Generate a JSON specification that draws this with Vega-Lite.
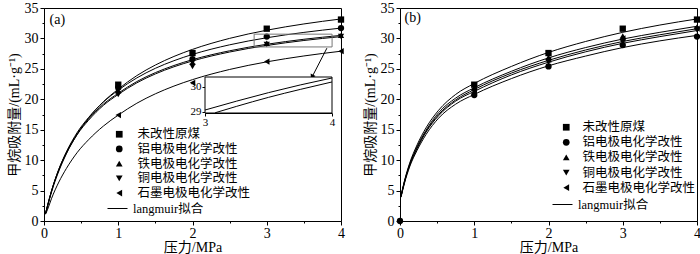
{
  "$schema": "https://vega.github.io/schema/vega-lite/v6.json",
  "padding": {"left": 6, "top": 0, "right": 0, "bottom": 0},
  "spacing": 17,
  "config": {
    "font": "Liberation Serif, Noto Sans CJK SC",
    "view": {"stroke": "black", "strokeWidth": 1},
    "axis": {
      "labelFont": "Liberation Serif, Noto Sans CJK SC",
      "titleFont": "Liberation Serif, Noto Sans CJK SC",
      "labelFontSize": 14, "titleFontSize": 14,
      "labelColor": "black", "titleColor": "black",
      "domainColor": "black", "tickColor": "black",
      "titleFontWeight": "normal", "grid": false
    },
    "legend": {
      "labelFont": "Liberation Serif, Noto Sans CJK SC",
      "labelFontSize": 12.5, "labelColor": "black"
    },
    "text": {"font": "Liberation Serif, Noto Sans CJK SC"}
  },
  "datasets": {
    "points_a": [
      {"p": 1, "v": 22.4, "series": "未改性原煤"}, {"p": 2, "v": 27.6, "series": "未改性原煤"}, {"p": 3, "v": 31.6, "series": "未改性原煤"}, {"p": 4, "v": 33.1, "series": "未改性原煤"},
      {"p": 1, "v": 21.9, "series": "铝电极电化学改性"}, {"p": 2, "v": 26.6, "series": "铝电极电化学改性"}, {"p": 3, "v": 30.3, "series": "铝电极电化学改性"}, {"p": 4, "v": 31.7, "series": "铝电极电化学改性"},
      {"p": 1, "v": 21.4, "series": "铁电极电化学改性"}, {"p": 2, "v": 26.1, "series": "铁电极电化学改性"}, {"p": 3, "v": 29.2, "series": "铁电极电化学改性"}, {"p": 4, "v": 30.5, "series": "铁电极电化学改性"},
      {"p": 1, "v": 20.8, "series": "铜电极电化学改性"}, {"p": 2, "v": 25.4, "series": "铜电极电化学改性"}, {"p": 3, "v": 29.0, "series": "铜电极电化学改性"}, {"p": 4, "v": 30.3, "series": "铜电极电化学改性"},
      {"p": 1, "v": 17.4, "series": "石墨电极电化学改性"}, {"p": 2, "v": 22.7, "series": "石墨电极电化学改性"}, {"p": 3, "v": 26.2, "series": "石墨电极电化学改性"}, {"p": 4, "v": 27.9, "series": "石墨电极电化学改性"}
    ],
    "curves_a": [
      {"p": 0.02, "v": 1.2, "series": "S"}, {"p": 0.05, "v": 2.5, "series": "S"}, {"p": 0.1, "v": 4.7, "series": "S"}, {"p": 0.2, "v": 8.2, "series": "S"}, {"p": 0.3, "v": 11.0, "series": "S"}, {"p": 0.45, "v": 14.3, "series": "S"}, {"p": 0.6, "v": 16.9, "series": "S"}, {"p": 0.8, "v": 19.6, "series": "S"}, {"p": 1, "v": 21.67, "series": "S"}, {"p": 1.25, "v": 23.89, "series": "S"}, {"p": 1.5, "v": 25.63, "series": "S"}, {"p": 1.75, "v": 27.04, "series": "S"}, {"p": 2, "v": 28.2, "series": "S"}, {"p": 2.5, "v": 30.01, "series": "S"}, {"p": 3, "v": 31.35, "series": "S"}, {"p": 3.5, "v": 32.38, "series": "S"}, {"p": 4, "v": 33.2, "series": "S"},
      {"p": 0.02, "v": 1.2, "series": "C"}, {"p": 0.05, "v": 2.65, "series": "C"}, {"p": 0.1, "v": 4.9, "series": "C"}, {"p": 0.2, "v": 8.5, "series": "C"}, {"p": 0.3, "v": 11.3, "series": "C"}, {"p": 0.45, "v": 14.6, "series": "C"}, {"p": 0.6, "v": 17.0, "series": "C"}, {"p": 0.8, "v": 19.55, "series": "C"}, {"p": 1, "v": 21.5, "series": "C"}, {"p": 1.25, "v": 23.51, "series": "C"}, {"p": 1.5, "v": 25.09, "series": "C"}, {"p": 1.75, "v": 26.34, "series": "C"}, {"p": 2, "v": 27.37, "series": "C"}, {"p": 2.5, "v": 28.95, "series": "C"}, {"p": 3, "v": 30.11, "series": "C"}, {"p": 3.5, "v": 30.99, "series": "C"}, {"p": 4, "v": 31.7, "series": "C"},
      {"p": 0.02, "v": 1.2, "series": "T"}, {"p": 0.05, "v": 2.65, "series": "T"}, {"p": 0.1, "v": 4.9, "series": "T"}, {"p": 0.2, "v": 8.5, "series": "T"}, {"p": 0.3, "v": 11.25, "series": "T"}, {"p": 0.45, "v": 14.4, "series": "T"}, {"p": 0.6, "v": 16.75, "series": "T"}, {"p": 0.8, "v": 19.2, "series": "T"}, {"p": 1, "v": 21.0, "series": "T"}, {"p": 1.25, "v": 22.91, "series": "T"}, {"p": 1.5, "v": 24.38, "series": "T"}, {"p": 1.75, "v": 25.55, "series": "T"}, {"p": 2, "v": 26.51, "series": "T"}, {"p": 2.5, "v": 27.97, "series": "T"}, {"p": 3, "v": 29.04, "series": "T"}, {"p": 3.5, "v": 29.86, "series": "T"}, {"p": 4, "v": 30.5, "series": "T"},
      {"p": 0.02, "v": 1.2, "series": "D"}, {"p": 0.05, "v": 2.6, "series": "D"}, {"p": 0.1, "v": 4.85, "series": "D"}, {"p": 0.2, "v": 8.4, "series": "D"}, {"p": 0.3, "v": 11.1, "series": "D"}, {"p": 0.45, "v": 14.25, "series": "D"}, {"p": 0.6, "v": 16.55, "series": "D"}, {"p": 0.8, "v": 19.0, "series": "D"}, {"p": 1, "v": 20.8, "series": "D"}, {"p": 1.25, "v": 22.7, "series": "D"}, {"p": 1.5, "v": 24.17, "series": "D"}, {"p": 1.75, "v": 25.34, "series": "D"}, {"p": 2, "v": 26.3, "series": "D"}, {"p": 2.5, "v": 27.77, "series": "D"}, {"p": 3, "v": 28.84, "series": "D"}, {"p": 3.5, "v": 29.66, "series": "D"}, {"p": 4, "v": 30.3, "series": "D"},
      {"p": 0.02, "v": 1.1, "series": "L"}, {"p": 0.05, "v": 1.95, "series": "L"}, {"p": 0.1, "v": 3.65, "series": "L"}, {"p": 0.2, "v": 6.4, "series": "L"}, {"p": 0.3, "v": 8.6, "series": "L"}, {"p": 0.45, "v": 11.3, "series": "L"}, {"p": 0.6, "v": 13.35, "series": "L"}, {"p": 0.8, "v": 15.6, "series": "L"}, {"p": 1, "v": 17.4, "series": "L"}, {"p": 1.25, "v": 19.35, "series": "L"}, {"p": 1.5, "v": 20.9, "series": "L"}, {"p": 1.75, "v": 22.17, "series": "L"}, {"p": 2, "v": 23.23, "series": "L"}, {"p": 2.5, "v": 24.9, "series": "L"}, {"p": 3, "v": 26.15, "series": "L"}, {"p": 3.5, "v": 27.12, "series": "L"}, {"p": 4, "v": 27.9, "series": "L"}
    ],
    "inset_a": [
      {"p": 3, "v": 29.07, "series": "upper"}, {"p": 3.25, "v": 29.43, "series": "upper"}, {"p": 3.5, "v": 29.77, "series": "upper"}, {"p": 3.75, "v": 30.08, "series": "upper"}, {"p": 4, "v": 30.36, "series": "upper"},
      {"p": 3.08, "v": 28.96, "series": "lower"}, {"p": 3.25, "v": 29.22, "series": "lower"}, {"p": 3.5, "v": 29.58, "series": "lower"}, {"p": 3.75, "v": 29.9, "series": "lower"}, {"p": 4, "v": 30.2, "series": "lower"}
    ],
    "points_b": [
      {"p": 1, "v": 22.4, "series": "未改性原煤"}, {"p": 2, "v": 27.6, "series": "未改性原煤"}, {"p": 3, "v": 31.6, "series": "未改性原煤"}, {"p": 4, "v": 33.1, "series": "未改性原煤"},
      {"p": 1, "v": 21.9, "series": "铁电极电化学改性"}, {"p": 2, "v": 26.9, "series": "铁电极电化学改性"}, {"p": 3, "v": 30.4, "series": "铁电极电化学改性"}, {"p": 4, "v": 31.9, "series": "铁电极电化学改性"},
      {"p": 1, "v": 21.5, "series": "石墨电极电化学改性"}, {"p": 2, "v": 26.5, "series": "石墨电极电化学改性"}, {"p": 3, "v": 30.0, "series": "石墨电极电化学改性"}, {"p": 4, "v": 31.6, "series": "石墨电极电化学改性"},
      {"p": 1, "v": 21.2, "series": "铜电极电化学改性"}, {"p": 2, "v": 26.1, "series": "铜电极电化学改性"}, {"p": 3, "v": 29.4, "series": "铜电极电化学改性"}, {"p": 4, "v": 31.4, "series": "铜电极电化学改性"},
      {"p": 0, "v": 0, "series": "铝电极电化学改性"}, {"p": 1, "v": 20.7, "series": "铝电极电化学改性"}, {"p": 2, "v": 25.4, "series": "铝电极电化学改性"}, {"p": 3, "v": 28.9, "series": "铝电极电化学改性"}, {"p": 4, "v": 30.3, "series": "铝电极电化学改性"}
    ],
    "curves_b": [
      {"p": 0.013, "v": 4.1, "series": "S"}, {"p": 0.06, "v": 6.6, "series": "S"}, {"p": 0.13, "v": 9.5, "series": "S"}, {"p": 0.23, "v": 12.5, "series": "S"}, {"p": 0.35, "v": 15.3, "series": "S"}, {"p": 0.52, "v": 18.2, "series": "S"}, {"p": 0.75, "v": 20.8, "series": "S"}, {"p": 1, "v": 22.6, "series": "S"}, {"p": 1.5, "v": 25.4, "series": "S"}, {"p": 2, "v": 27.7, "series": "S"}, {"p": 2.5, "v": 29.5, "series": "S"}, {"p": 3, "v": 31.0, "series": "S"}, {"p": 3.5, "v": 32.2, "series": "S"}, {"p": 4, "v": 33.2, "series": "S"},
      {"p": 0.013, "v": 4.05, "series": "T"}, {"p": 0.06, "v": 6.5, "series": "T"}, {"p": 0.13, "v": 9.3, "series": "T"}, {"p": 0.23, "v": 12.2, "series": "T"}, {"p": 0.35, "v": 14.9, "series": "T"}, {"p": 0.52, "v": 17.8, "series": "T"}, {"p": 0.75, "v": 20.2, "series": "T"}, {"p": 1, "v": 21.9, "series": "T"}, {"p": 1.5, "v": 24.6, "series": "T"}, {"p": 2, "v": 26.8, "series": "T"}, {"p": 2.5, "v": 28.5, "series": "T"}, {"p": 3, "v": 29.9, "series": "T"}, {"p": 3.5, "v": 31.0, "series": "T"}, {"p": 4, "v": 32.0, "series": "T"},
      {"p": 0.013, "v": 4.0, "series": "L"}, {"p": 0.06, "v": 6.4, "series": "L"}, {"p": 0.13, "v": 9.2, "series": "L"}, {"p": 0.23, "v": 12.0, "series": "L"}, {"p": 0.35, "v": 14.7, "series": "L"}, {"p": 0.52, "v": 17.5, "series": "L"}, {"p": 0.75, "v": 19.9, "series": "L"}, {"p": 1, "v": 21.6, "series": "L"}, {"p": 1.5, "v": 24.3, "series": "L"}, {"p": 2, "v": 26.4, "series": "L"}, {"p": 2.5, "v": 28.1, "series": "L"}, {"p": 3, "v": 29.5, "series": "L"}, {"p": 3.5, "v": 30.6, "series": "L"}, {"p": 4, "v": 31.6, "series": "L"},
      {"p": 0.013, "v": 3.95, "series": "D"}, {"p": 0.06, "v": 6.35, "series": "D"}, {"p": 0.13, "v": 9.1, "series": "D"}, {"p": 0.23, "v": 11.9, "series": "D"}, {"p": 0.35, "v": 14.6, "series": "D"}, {"p": 0.52, "v": 17.3, "series": "D"}, {"p": 0.75, "v": 19.7, "series": "D"}, {"p": 1, "v": 21.3, "series": "D"}, {"p": 1.5, "v": 24.0, "series": "D"}, {"p": 2, "v": 26.1, "series": "D"}, {"p": 2.5, "v": 27.8, "series": "D"}, {"p": 3, "v": 29.2, "series": "D"}, {"p": 3.5, "v": 30.3, "series": "D"}, {"p": 4, "v": 31.3, "series": "D"},
      {"p": 0.013, "v": 3.9, "series": "C"}, {"p": 0.06, "v": 6.2, "series": "C"}, {"p": 0.13, "v": 8.9, "series": "C"}, {"p": 0.23, "v": 11.6, "series": "C"}, {"p": 0.35, "v": 14.2, "series": "C"}, {"p": 0.52, "v": 16.9, "series": "C"}, {"p": 0.75, "v": 19.2, "series": "C"}, {"p": 1, "v": 20.8, "series": "C"}, {"p": 1.5, "v": 23.4, "series": "C"}, {"p": 2, "v": 25.5, "series": "C"}, {"p": 2.5, "v": 27.1, "series": "C"}, {"p": 3, "v": 28.5, "series": "C"}, {"p": 3.5, "v": 29.6, "series": "C"}, {"p": 4, "v": 30.5, "series": "C"}
    ]
  },
  "resolve": {"scale": {"shape": "independent", "stroke": "independent"}, "legend": {"shape": "independent", "stroke": "independent"}},
  "hconcat": [
    {
      "width": 297, "height": 213,
      "resolve": {"scale": {"x": "independent", "y": "independent"}, "axis": {"x": "independent", "y": "independent"}},
      "layer": [
        {
          "resolve": {"axis": {"x": "independent", "y": "independent"}},
          "layer": [
            {
              "data": {"name": "curves_a"},
              "mark": {"type": "line", "strokeWidth": 1, "interpolate": "monotone"},
              "encoding": {
                "x": {"field": "p", "type": "quantitative", "scale": {"domain": [0, 4], "nice": false},
                  "axis": {"orient": "bottom", "title": "压力/MPa", "values": [0, 1, 2, 3, 4], "format": "d",
                    "labelOverlap": false, "labelFlush": false, "tickSize": 4, "labelPadding": 1, "titlePadding": 0}},
                "y": {"field": "v", "type": "quantitative", "scale": {"domain": [0, 35], "nice": false},
                  "axis": {"orient": "left", "title": "甲烷吸附量/(mL·g⁻¹)", "values": [0, 5, 10, 15, 20, 25, 30, 35], "format": "d",
                    "labelOverlap": false, "labelFlush": false, "tickSize": 4, "labelPadding": 2, "titlePadding": 3}},
                "detail": {"field": "series"},
                "stroke": {"datum": "langmuir拟合", "type": "nominal", "scale": {"range": ["black"]},
                  "legend": {"title": null, "orient": "none", "legendX": 63, "legendY": 190, "padding": 0,
                    "symbolType": "stroke", "symbolSize": 400, "symbolStrokeWidth": 1, "labelOffset": 5}}
              }
            },
            {
              "data": {"name": "points_a"},
              "mark": {"type": "point", "filled": true, "color": "black", "size": 40, "opacity": 1},
              "encoding": {
                "x": {"field": "p", "type": "quantitative",
                  "axis": {"orient": "bottom", "values": [0.5, 1.5, 2.5, 3.5], "labels": false, "domain": false, "tickSize": 2, "title": null}},
                "y": {"field": "v", "type": "quantitative",
                  "axis": {"orient": "left", "values": [2.5, 7.5, 12.5, 17.5, 22.5, 27.5, 32.5], "labels": false, "domain": false, "tickSize": 2, "title": null}},
                "shape": {"field": "series", "type": "nominal",
                  "scale": {"domain": ["未改性原煤", "铝电极电化学改性", "铁电极电化学改性", "铜电极电化学改性", "石墨电极电化学改性"],
                    "range": ["square", "circle", "triangle-up", "triangle-down", "triangle-left"]},
                  "legend": {"title": null, "orient": "none", "legendX": 69, "legendY": 120, "padding": 0,
                    "symbolSize": 45, "symbolFillColor": "black", "symbolStrokeWidth": 0,
                    "labelOffset": 12, "rowPadding": 1.7, "symbolOpacity": 1}
                }
              }
            },
            {
              "data": {"values": [{}]},
              "mark": {"type": "rect", "fill": null, "fillOpacity": 0, "stroke": "#777777", "strokeWidth": 1},
              "encoding": {"x": {"datum": 2.83, "type": "quantitative", "axis": null}, "x2": {"datum": 3.88}, "y": {"datum": 28.6, "type": "quantitative", "axis": null}, "y2": {"datum": 30.7}}
            },
            {
              "data": {"values": [{}]},
              "mark": {"type": "rule", "color": "black", "strokeWidth": 1},
              "encoding": {"x": {"datum": 3.81, "type": "quantitative", "axis": null}, "x2": {"datum": 3.62}, "y": {"datum": 28.4, "type": "quantitative", "axis": null}, "y2": {"datum": 23.9}}
            },
            {
              "data": {"values": [{}]},
              "mark": {"type": "point", "shape": "triangle-down", "filled": true, "color": "black", "size": 30, "angle": 27, "opacity": 1},
              "encoding": {"x": {"datum": 3.61, "type": "quantitative", "axis": null}, "y": {"datum": 23.7, "type": "quantitative", "axis": null}}
            },
            {
              "data": {"values": [{}]},
              "mark": {"type": "text", "text": "(a)", "fontSize": 14, "align": "center", "baseline": "middle", "color": "black"},
              "encoding": {"x": {"datum": 0.18, "type": "quantitative", "axis": null}, "y": {"datum": 33.0, "type": "quantitative", "axis": null}}
            }
          ]
        },
        {
          "layer": [
            {
              "data": {"values": [{}]},
              "mark": {"type": "rect", "fill": "white", "stroke": "black", "strokeWidth": 1},
              "encoding": {
                "x": {"datum": 3, "type": "quantitative", "scale": {"domain": [3, 4], "range": [161, 288], "nice": false, "zero": false},
                  "axis": {"orient": "bottom", "offset": -108, "values": [3, 4], "format": "d", "title": null, "labelFontSize": 11, "tickSize": 3, "labelPadding": 0, "labelFlush": false}},
                "x2": {"datum": 4},
                "y": {"datum": 28.95, "type": "quantitative", "scale": {"domain": [28.95, 30.4], "range": [105, 69], "nice": false, "zero": false},
                  "axis": {"orient": "left", "offset": -161, "values": [29, 30], "format": "d", "title": null, "labelFontSize": 11, "tickSize": 3, "labelPadding": 1, "labelFlush": false}},
                "y2": {"datum": 30.4}
              }
            },
            {
              "data": {"name": "inset_a"},
              "mark": {"type": "line", "color": "black", "strokeWidth": 1, "interpolate": "monotone"},
              "encoding": {
                "x": {"field": "p", "type": "quantitative"},
                "y": {"field": "v", "type": "quantitative"},
                "detail": {"field": "series"}
              }
            }
          ]
        }
      ]
    },
    {
      "width": 297, "height": 213,
      "resolve": {"axis": {"x": "independent", "y": "independent"}},
      "layer": [
        {
          "data": {"name": "curves_b"},
          "mark": {"type": "line", "strokeWidth": 1, "interpolate": "monotone"},
          "encoding": {
            "x": {"field": "p", "type": "quantitative", "scale": {"domain": [0, 4], "nice": false},
              "axis": {"orient": "bottom", "title": "压力/MPa", "values": [0, 1, 2, 3, 4], "format": "d",
                "labelOverlap": false, "labelFlush": false, "tickSize": 4, "labelPadding": 1, "titlePadding": 0}},
            "y": {"field": "v", "type": "quantitative", "scale": {"domain": [0, 35], "nice": false},
              "axis": {"orient": "left", "title": "甲烷吸附量/(mL·g⁻¹)", "values": [0, 5, 10, 15, 20, 25, 30, 35], "format": "d",
                "labelOverlap": false, "labelFlush": false, "tickSize": 4, "labelPadding": 2, "titlePadding": 3}},
            "detail": {"field": "series"},
            "stroke": {"datum": "langmuir拟合", "type": "nominal", "scale": {"range": ["black"]},
              "legend": {"title": null, "orient": "none", "legendX": 152, "legendY": 186, "padding": 0,
                "symbolType": "stroke", "symbolSize": 400, "symbolStrokeWidth": 1, "labelOffset": 5}}
          }
        },
        {
          "data": {"name": "points_b"},
          "mark": {"type": "point", "filled": true, "color": "black", "size": 40, "opacity": 1},
          "encoding": {
            "x": {"field": "p", "type": "quantitative",
              "axis": {"orient": "bottom", "values": [0.5, 1.5, 2.5, 3.5], "labels": false, "domain": false, "tickSize": 2, "title": null}},
            "y": {"field": "v", "type": "quantitative",
              "axis": {"orient": "left", "values": [2.5, 7.5, 12.5, 17.5, 22.5, 27.5, 32.5], "labels": false, "domain": false, "tickSize": 2, "title": null}},
            "shape": {"field": "series", "type": "nominal",
              "scale": {"domain": ["未改性原煤", "铝电极电化学改性", "铁电极电化学改性", "铜电极电化学改性", "石墨电极电化学改性"],
                "range": ["square", "circle", "triangle-up", "triangle-down", "triangle-left"]},
              "legend": {"title": null, "orient": "none", "legendX": 160, "legendY": 113, "padding": 0,
                "symbolSize": 45, "symbolFillColor": "black", "symbolStrokeWidth": 0,
                "labelOffset": 10, "rowPadding": 2.1, "symbolOpacity": 1}
            }
          }
        },
        {
          "data": {"values": [{}]},
          "mark": {"type": "text", "text": "(b)", "fontSize": 14, "align": "center", "baseline": "middle", "color": "black"},
          "encoding": {"x": {"datum": 0.17, "type": "quantitative", "axis": null}, "y": {"datum": 33.3, "type": "quantitative", "axis": null}}
        }
      ]
    }
  ]
}
